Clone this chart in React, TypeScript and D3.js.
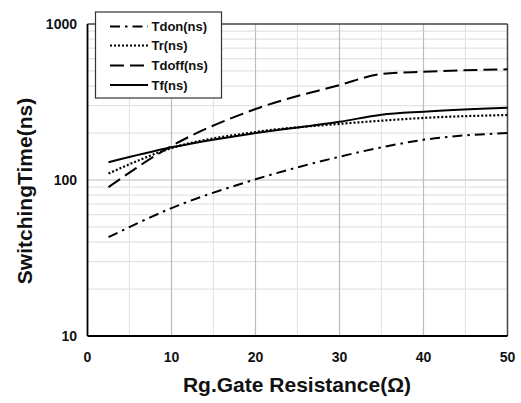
import React from "react";
import * as d3 from "d3";

const xValues = [2.5, 10, 20, 30, 35, 40, 50];
const tdon = [43, 66, 101, 141, 162, 181, 200];
const tr = [110, 160, 203, 229, 240, 250, 261];
const tdoff = [90, 165, 285, 406, 478, 494, 512];
const tf = [130, 162, 200, 236, 262, 274, 290];
const seriesNames = ["Tdon(ns)", "Tr(ns)", "Tdoff(ns)", "Tf(ns)"];
const xTicks = [0, 10, 20, 30, 40, 50];
const yTicks = [10, 100, 1000];

const W = 521, H = 403;
const L = 87.5, R = 507.5, T = 24, B = 336;

export default function App() {
  const x = d3.scaleLinear().domain([0, 50]).range([L, R]);
  const y = d3.scaleLog().domain([10, 1000]).range([B, T]);
  const series = [tdon, tr, tdoff, tf];
  const dashes = ["10,5,2.5,5", "2,2", "14,6", "none"];
  const line = d3
    .line<[number, number]>()
    .x((d) => x(d[0]))
    .y((d) => y(d[1]))
    .curve(d3.curveMonotoneX);
  const minorX = d3.range(5, 50, 10);
  const majorX = [10, 20, 30, 40];
  const minorY: number[] = [];
  [10, 100].forEach((dec) => {
    for (let k = 2; k <= 9; k++) minorY.push(dec * k);
  });
  const font = "Arial, 'Liberation Sans', sans-serif";
  const legendRows = [26.5, 45.5, 65.5, 85];
  return (
    <svg width={W} height={H} style={{ display: "block", position: "absolute", left: 0, top: 0 }}>
      <rect width={W} height={H} fill="#fff" />
      {minorY.map((v) => (
        <line key={"my" + v} x1={L} x2={R} y1={y(v)} y2={y(v)} stroke="#e3e3e3" strokeWidth={1.2} />
      ))}
      {minorX.map((v) => (
        <line key={"mx" + v} x1={x(v)} x2={x(v)} y1={T} y2={B} stroke="#e3e3e3" strokeWidth={1.2} />
      ))}
      {majorX.map((v) => (
        <line key={"Mx" + v} x1={x(v)} x2={x(v)} y1={T} y2={B} stroke="#bdbdbd" strokeWidth={1.2} />
      ))}
      <line x1={L} x2={R} y1={y(100)} y2={y(100)} stroke="#bdbdbd" strokeWidth={1.2} />
      <line x1={L} x2={R} y1={T} y2={T} stroke="#444" strokeWidth={1.5} />
      <line x1={R} x2={R} y1={T} y2={B} stroke="#444" strokeWidth={1.5} />
      <line x1={L} x2={L} y1={T} y2={B} stroke="#000" strokeWidth={1.8} />
      <line x1={L} x2={R} y1={B} y2={B} stroke="#000" strokeWidth={1.8} />
      {series.map((s, i) => (
        <path
          key={"s" + i}
          d={line(xValues.map((xv, j) => [xv, s[j]] as [number, number])) || ""}
          fill="none"
          stroke="#000"
          strokeWidth={i === 1 ? 2.2 : 2}
          strokeDasharray={dashes[i]}
        />
      ))}
      {yTicks.map((v) => (
        <text key={"yt" + v} x={77} y={y(v)} dy="0.35em" textAnchor="end" fontFamily={font} fontWeight="bold" fontSize={14} fill="#111">
          {v}
        </text>
      ))}
      {xTicks.map((v) => (
        <text key={"xt" + v} x={x(v)} y={357} dy="0.35em" textAnchor="middle" fontFamily={font} fontWeight="bold" fontSize={14} fill="#111">
          {v}
        </text>
      ))}
      <text x={297} y={392} textAnchor="middle" fontFamily={font} fontWeight="bold" fontSize={21} fill="#111">
        Rg.Gate Resistance(Ω)
      </text>
      <text transform={`translate(32,191) rotate(-90)`} textAnchor="middle" fontFamily={font} fontWeight="bold" fontSize={21} fill="#111">
        SwitchingTime(ns)
      </text>
      <rect x={95.5} y={12} width={126} height={86} fill="#fff" stroke="#333" strokeWidth={1.2} />
      {seriesNames.map((n, i) => (
        <g key={"lg" + i}>
          <line x1={110} x2={148} y1={legendRows[i]} y2={legendRows[i]} stroke="#000" strokeWidth={2} strokeDasharray={dashes[i]} />
          <text x={151.5} y={legendRows[i]} dy="0.35em" fontFamily={font} fontWeight="bold" fontSize={13} fill="#111">
            {n}
          </text>
        </g>
      ))}
    </svg>
  );
}
